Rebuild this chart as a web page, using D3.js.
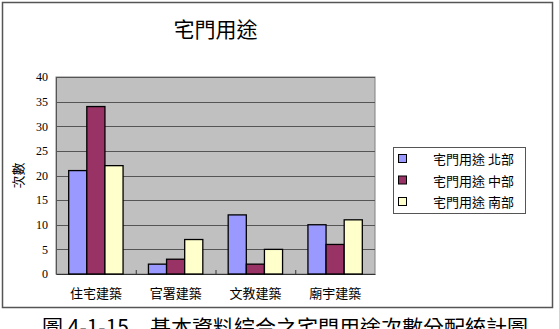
<!DOCTYPE html>
<html><head><meta charset="utf-8">
<script src="https://cdn.jsdelivr.net/npm/d3@7"></script>
<style>body{margin:0;background:#fff}svg{display:block}</style>
</head><body>
<script>
const categories = ["住宅建築","官署建築","文教建築","廟宇建築"];
const seriesNames = ["宅門用途 北部","宅門用途 中部","宅門用途 南部"];
const north = [21,2,12,10];
const central = [34,3,2,6];
const south = [22,7,5,11];
const yTicks = [0,5,10,15,20,25,30,35,40];
const colors = ["#9999FF","#993366","#FFFFCC"];
const chartTitle = "宅門用途";
const yTitle = "次數";
const caption = "圖 4-1-15　基本資料綜合之宅門用途次數分配統計圖";

const series = [north, central, south];
const W = 559, H = 329;
const svg = d3.select("body").append("svg").attr("width", W).attr("height", H);

// outer chart frame
svg.append("rect").attr("x",2.5).attr("y",2.5).attr("width",550).attr("height",305)
  .attr("fill","#fff").attr("stroke","#555").attr("stroke-width",1.5);

const plot = {l:56, r:375, t:77, b:274};
const x = d3.scaleBand().domain(categories).range([plot.l, plot.r]).paddingInner(0).paddingOuter(0);
const y = d3.scaleLinear().domain([0,40]).range([plot.b, plot.t]);
const sub = d3.scaleBand().domain(d3.range(3)).range([0, x.bandwidth()]).paddingInner(0).paddingOuter(0.7);

svg.append("rect").attr("x",plot.l).attr("y",plot.t).attr("width",plot.r-plot.l).attr("height",plot.b-plot.t)
  .attr("fill","#C0C0C0").attr("stroke","#808080").attr("stroke-width",1);

// gridlines
svg.append("g").selectAll("line").data(yTicks.filter(d=>d>0)).join("line")
  .attr("x1",plot.l).attr("x2",plot.r).attr("y1",d=>Math.round(y(d))+0.5).attr("y2",d=>Math.round(y(d))+0.5)
  .attr("stroke","#555").attr("stroke-width",1);

// y axis
const yAxis = d3.axisLeft(y).tickValues(yTicks).tickSize(0).tickPadding(8);
const gy = svg.append("g").attr("transform",`translate(${plot.l},0)`).call(yAxis);
gy.attr("font-family",null);
gy.select(".domain").attr("stroke","#555");
gy.selectAll("text").style("font-family","'Liberation Serif','DejaVu Serif',serif").style("font-size","12px").attr("fill","#000");

// x axis
const xAxis = d3.axisBottom(x).tickSize(0).tickPadding(15);
const gx = svg.append("g").attr("transform",`translate(0,${plot.b})`).call(xAxis);
gx.select(".domain").attr("stroke","#333");
gx.selectAll("text").style("font-family","'Noto Sans CJK TC',sans-serif").style("font-size","13px").attr("fill","#000");
// category boundary tick marks
svg.append("g").selectAll("line").data(categories.slice(1)).join("line")
  .attr("x1",d=>x(d)+0.5).attr("x2",d=>x(d)+0.5).attr("y1",plot.b).attr("y2",plot.b-4)
  .attr("stroke","#333");

// bars
const groups = svg.append("g").selectAll("g").data(categories).join("g")
  .attr("transform",d=>`translate(${x(d)},0)`);
groups.selectAll("rect").data((c,i)=>series.map((s,k)=>({k, v:s[i]}))).join("rect")
  .attr("x",d=>sub(d.k)).attr("width",sub.bandwidth())
  .attr("y",d=>y(d.v)).attr("height",d=>y(0)-y(d.v))
  .attr("fill",d=>colors[d.k]).attr("stroke","#000").attr("stroke-width",1.3);

// title
svg.append("text").attr("x",(plot.l+plot.r)/2).attr("y",37).attr("text-anchor","middle")
  .attr("font-family","'Noto Sans CJK TC',sans-serif").attr("font-size",21).text(chartTitle);

// y title
svg.append("text").attr("transform",`translate(23,${(plot.t+plot.b)/2}) rotate(-90)`).attr("text-anchor","middle")
  .attr("font-family","'Noto Sans CJK TC',sans-serif").attr("font-size",13).text(yTitle);

// legend
const lg = svg.append("g");
lg.append("rect").attr("x",393.5).attr("y",147.5).attr("width",132).attr("height",66)
  .attr("fill","#fff").attr("stroke","#555");
seriesNames.forEach((n,i)=>{
  const cy = 159 + i*21.5;
  lg.append("rect").attr("x",398.5).attr("y",cy-4.5).attr("width",8).attr("height",8)
    .attr("fill",colors[i]).attr("stroke","#000");
  lg.append("text").attr("x",433).attr("y",cy+5).attr("font-family","'Noto Sans CJK TC',sans-serif")
    .attr("font-size",13).text(n);
});

// caption (cut off by the page edge, as in the reference)
svg.append("text").attr("x",42).attr("y",335).attr("font-family","'Noto Sans CJK TC',sans-serif")
  .attr("font-size",21).attr("textLength",486).text(caption);
</script>
</body></html>
